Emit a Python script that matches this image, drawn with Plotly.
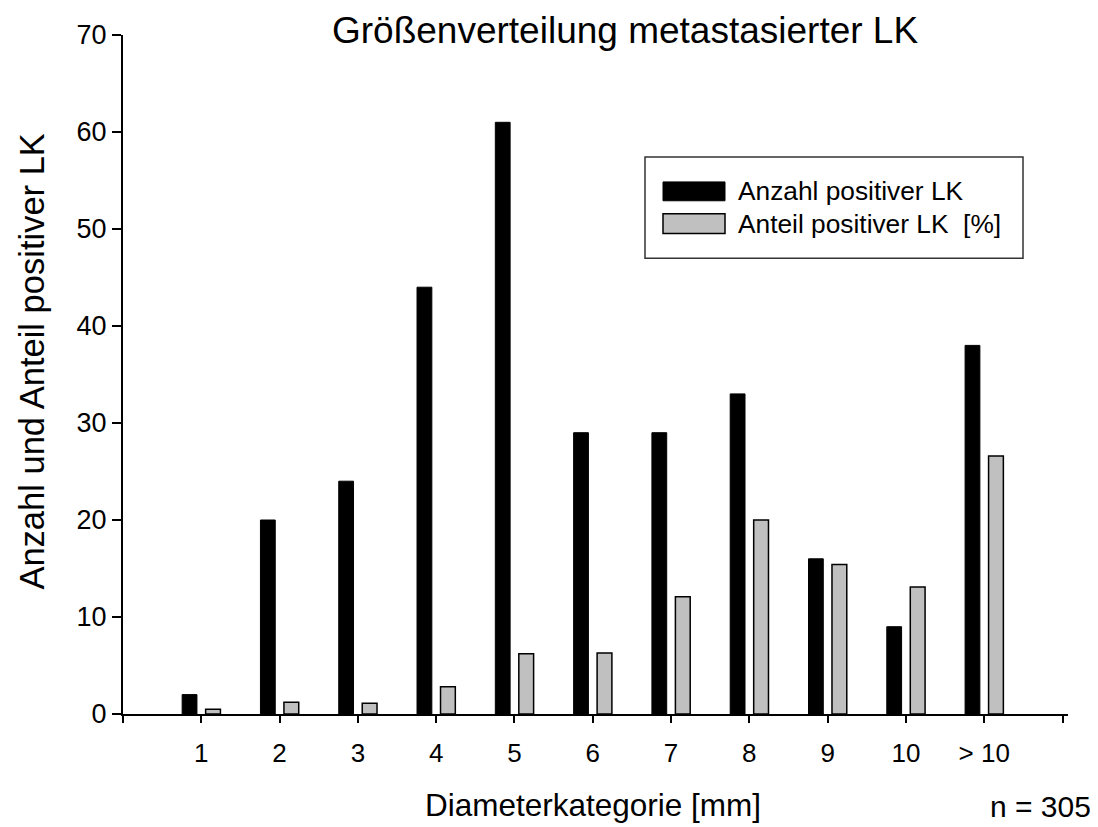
import plotly.graph_objects as go

# Daten
kategorien = ["1", "2", "3", "4", "5", "6", "7", "8", "9", "10", "> 10"]
anzahl = [2, 20, 24, 44, 61, 29, 29, 33, 16, 9, 38]
anteil = [0.5, 1.2, 1.1, 2.8, 6.2, 6.3, 12.1, 20.0, 15.4, 13.1, 26.6]

FONT = "Liberation Sans, Arial, sans-serif"
OFF = 8  # Seitenrand des Browsers
W, H = 1098 - OFF, 827 - OFF
L, R, T, B = 123 - OFF, 30, 30 - OFF, 113
PW, PH = W - L - R, H - T - B


def px_x(x):
    # Bildschirm-Pixel -> Papier-Koordinate
    return (x - OFF - L) / PW


def px_y(y):
    return (H - B - (y - OFF)) / PH


pos = list(range(1, len(kategorien) + 1))

fig = go.Figure()
fig.add_trace(go.Bar(x=pos, y=anzahl, name="Anzahl positiver LK",
                     marker=dict(color="black", line=dict(color="black", width=1))))
fig.add_trace(go.Bar(x=pos, y=anteil, name="Anteil positiver LK  [%]",
                     marker=dict(color="#C0C0C0", line=dict(color="black", width=1.5))))

fig.update_layout(
    width=W, height=H,
    paper_bgcolor="white", plot_bgcolor="white",
    margin=dict(l=L, r=R, t=T, b=B),
    font=dict(family=FONT, color="black"),
    barmode="group", bargap=0.4, bargroupgap=0.37,
    showlegend=False,
    xaxis=dict(range=[0, 12.07], tickvals=list(range(0, 13)),
               ticktext=[""] + kategorien + [""],
               ticks="outside", ticklen=7, tickwidth=2, tickcolor="black",
               ticklabelstandoff=8,
               showline=True, linecolor="black", linewidth=2,
               showgrid=False, zeroline=False, tickfont=dict(size=26)),
    yaxis=dict(range=[0, 70], dtick=10, ticks="outside", ticklen=9, tickwidth=2,
               tickcolor="black", showline=True, linecolor="black", linewidth=2,
               showgrid=False, zeroline=False, tickfont=dict(size=27)),
)

ann = dict(xref="paper", yref="paper", showarrow=False)
fig.add_annotation(text="Größenverteilung metastasierter LK", x=px_x(625), y=px_y(25),
                   xanchor="center", yanchor="middle", font=dict(family=FONT, size=37), **ann)
fig.add_annotation(text="Anzahl und Anteil positiver LK", x=px_x(32), y=px_y(359), textangle=-90,
                   xanchor="center", yanchor="middle", font=dict(family=FONT, size=34.5), **ann)
fig.add_annotation(text="Diameterkategorie [mm]", x=px_x(593), y=px_y(806),
                   xanchor="center", yanchor="middle", font=dict(family=FONT, size=31.5), **ann)
fig.add_annotation(text="n = 305", x=px_x(1093), y=px_y(807),
                   xanchor="right", yanchor="middle", font=dict(family=FONT, size=30), **ann)

# Legende von Hand (breite Farbfelder wie im Original)
fig.add_shape(type="rect", xref="paper", yref="paper",
              x0=px_x(645), x1=px_x(1023), y0=px_y(255), y1=px_y(153),
              line=dict(color="#333333", width=1.5), fillcolor="white")
fig.add_shape(type="rect", xref="paper", yref="paper",
              x0=px_x(663), x1=px_x(725), y0=px_y(197), y1=px_y(178),
              line=dict(color="black", width=1), fillcolor="black")
fig.add_shape(type="rect", xref="paper", yref="paper",
              x0=px_x(663), x1=px_x(725), y0=px_y(230), y1=px_y(210),
              line=dict(color="black", width=1.5), fillcolor="#C0C0C0")
fig.add_annotation(text="Anzahl positiver LK", x=px_x(736), y=px_y(187),
                   xanchor="left", yanchor="middle", font=dict(family=FONT, size=26.3), **ann)
fig.add_annotation(text="Anteil positiver LK  [%]", x=px_x(736), y=px_y(220),
                   xanchor="left", yanchor="middle", font=dict(family=FONT, size=26.3), **ann)

fig.write_html("out.html")
